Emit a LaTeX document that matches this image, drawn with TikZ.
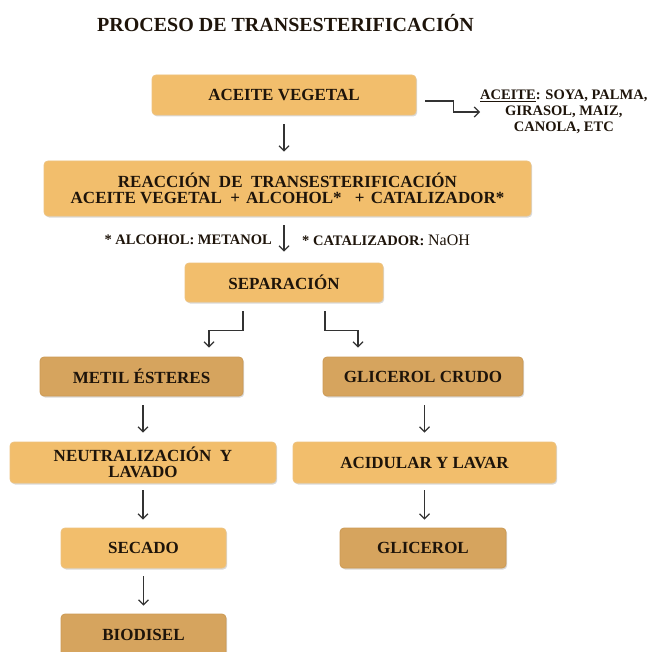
\documentclass[tikz,border=0pt]{standalone}
\usepackage{fontspec}
\setmainfont{Liberation Serif}
\usetikzlibrary{arrows.meta,shadows}
\definecolor{lightbox}{HTML}{F2BE6C}
\definecolor{darkbox}{HTML}{D6A45E}
\definecolor{lightedge}{HTML}{EDC27E}
\definecolor{darkedge}{HTML}{CC9A55}
\definecolor{ink}{HTML}{1E140A}
\begin{document}
\begin{tikzpicture}[x=1pt,y=-1pt,
  boxbase/.style={rounded corners=4pt, align=center,
    font=\bfseries\fontsize{17}{16}\selectfont, text=ink, inner sep=0pt,
    line width=0.8pt,
    drop shadow={shadow xshift=1.2pt,shadow yshift=-1.5pt,opacity=0.3}},
  lbox/.style={boxbase, fill=lightbox, draw=lightedge},
  dbox/.style={boxbase, fill=darkbox, draw=darkedge},
  arr/.style={draw=black!80, line width=1.2pt, -{Straight Barb[length=5pt,width=10pt]}},
  note/.style={font=\bfseries\fontsize{14.5}{16}\selectfont, text=ink, inner sep=0pt}]
\useasboundingbox (0,0) rectangle (649,652);

\node[font=\bfseries\fontsize{20}{20}\selectfont, text=ink, inner sep=0pt] (title) at (285.5,23) {PROCESO DE TRANSESTERIFICACIÓN};

\node[lbox, minimum width=264pt, minimum height=40pt] (av) at (284,95) {ACEITE VEGETAL};
\node[lbox, minimum width=487pt, minimum height=55pt] (re) at (287.5,188.5) {REACCIÓN\ \ DE\ \ TRANSESTERIFICACIÓN\\ACEITE VEGETAL\hspace{4pt} + \hspace{2pt}ALCOHOL*\hspace{9pt} + \hspace{2pt}CATALIZADOR*};
\node[lbox, minimum width=198pt, minimum height=39pt] (sep) at (284,282.5) {SEPARACIÓN};
\node[dbox, minimum width=203pt, minimum height=39pt] (me) at (141.5,376.5) {METIL ÉSTERES};
\node[dbox, minimum width=200pt, minimum height=39pt] (gc) at (423,376.5) {GLICEROL CRUDO};
\node[lbox, minimum width=266pt, minimum height=41pt] (ne) at (143,462.5) {NEUTRALIZACIÓN\ \ Y\\LAVADO};
\node[lbox, minimum width=263pt, minimum height=41pt] (ac) at (424.5,462.5) {ACIDULAR Y LAVAR};
\node[lbox, minimum width=165pt, minimum height=40pt] (se) at (143.5,548) {SECADO};
\node[dbox, minimum width=166pt, minimum height=40pt] (gl) at (423,548) {GLICEROL};
\node[dbox, minimum width=165pt, minimum height=42pt] (bi) at (143.5,635) {BIODISEL};

\node[note, align=center, anchor=west] (oil) at (480,112) {\underline{ACEITE}: SOYA, PALMA,\\GIRASOL, MAIZ,\\CANOLA, ETC};

\node[note, anchor=east] (alc) at (272,240) {* ALCOHOL: METANOL};
\node[note, anchor=west] (cat) at (302,240) {* CATALIZADOR: {\mdseries\fontsize{16}{16}\selectfont NaOH}};

\draw[arr, shorten <=9pt, shorten >=9pt] (av.south) -- (av.south |- re.north);
\draw[arr] ([xshift=9pt,yshift=-6pt]av.east) -- ++(28,0) |- (oil.west);
\draw[arr, shorten <=9pt, shorten >=11pt] (sep.north |- re.south) -- (sep.north);
\draw[arr] ([xshift=-41pt,yshift=-9pt]sep.south) -- ++(0,19) -| ([xshift=67.5pt,yshift=9pt]me.north);
\draw[arr] ([xshift=41pt,yshift=-9pt]sep.south) -- ++(0,19) -| ([xshift=-65pt,yshift=9pt]gc.north);
\draw[arr, shorten <=9pt, shorten >=9pt] (ne.north |- me.south) -- (ne.north);
\draw[arr, shorten <=9pt, shorten >=9pt] (ac.north |- gc.south) -- (ac.north);
\draw[arr, shorten <=7pt, shorten >=8pt] (ne.south) -- (ne.south |- se.north);
\draw[arr, shorten <=7pt, shorten >=8pt] (ac.south) -- (ac.south |- gl.north);
\draw[arr, shorten <=8pt, shorten >=8pt] (se.south) -- (se.south |- bi.north);
\end{tikzpicture}
\end{document}
